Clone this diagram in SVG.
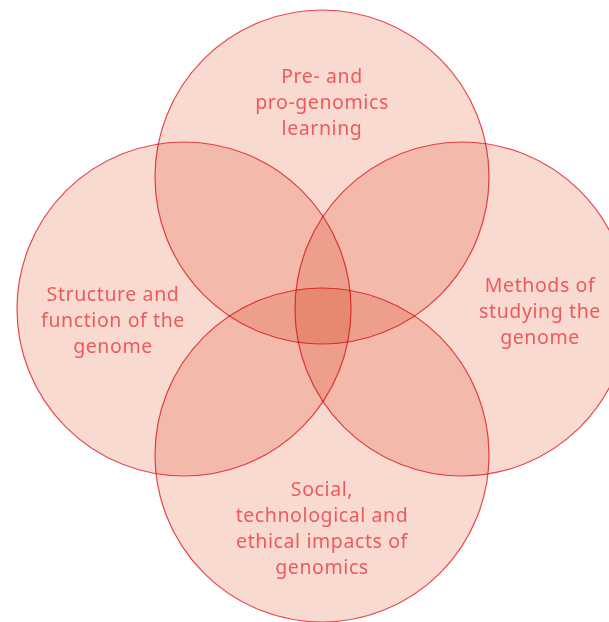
<svg xmlns="http://www.w3.org/2000/svg" width="609" height="622" viewBox="0 0 609 622">
<style>
.c{fill:#F9DAD1;stroke:#E8474F;stroke-width:1.2;mix-blend-mode:multiply}
.t{font-family:"Noto Sans","Liberation Sans",sans-serif;font-size:19.5px;letter-spacing:0.6px;fill:#EE5A5C;text-anchor:middle}
</style>
<rect width="609" height="622" fill="#fff"/>
<g id="top"><circle class="c" cx="322" cy="177" r="167"/></g>
<g id="left"><circle class="c" cx="184" cy="309" r="167"/></g>
<g id="right"><circle class="c" cx="462" cy="309" r="167"/></g>
<g id="bottom"><circle class="c" cx="322" cy="455" r="167"/></g>
<g id="labels">
<text class="t" x="322" y="83">Pre- and</text>
<text class="t" x="322" y="109">pro-genomics</text>
<text class="t" x="322" y="135">learning</text>
<text class="t" x="113" y="301">Structure and</text>
<text class="t" x="113" y="327">function of the</text>
<text class="t" x="113" y="353">genome</text>
<text class="t" x="540" y="292">Methods of</text>
<text class="t" x="540" y="318">studying the</text>
<text class="t" x="540" y="344">genome</text>
<text class="t" x="322" y="496">Social,</text>
<text class="t" x="322" y="522">technological and</text>
<text class="t" x="322" y="548">ethical impacts of</text>
<text class="t" x="322" y="574">genomics</text>
</g>
</svg>
